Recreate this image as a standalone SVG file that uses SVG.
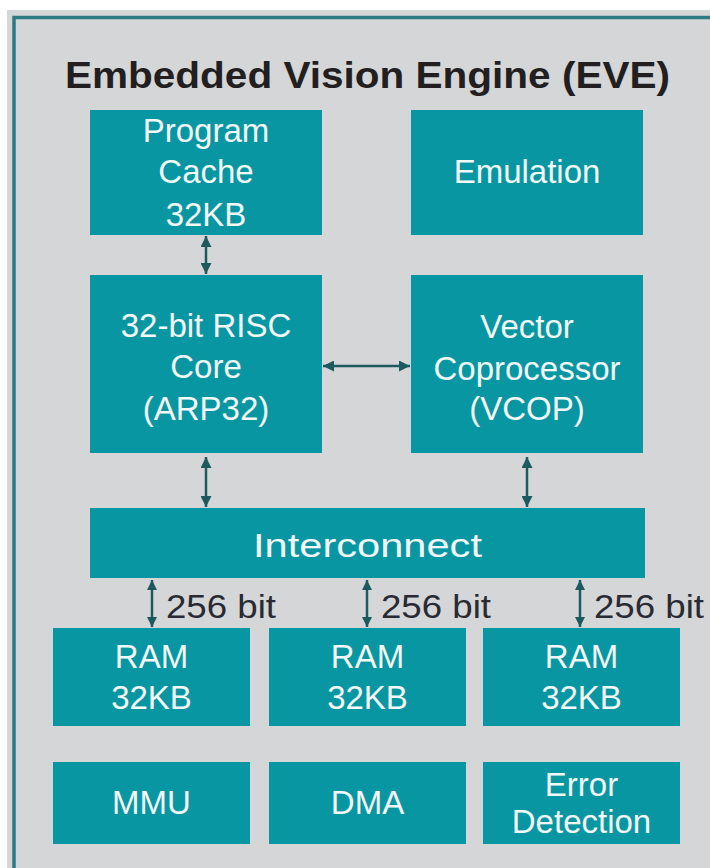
<svg xmlns="http://www.w3.org/2000/svg" width="710" height="868" viewBox="0 0 710 868">
<style>
.box{fill:#0897a2}
.bt{font-family:"Liberation Sans",Arial,sans-serif;font-size:33px;fill:#f3f8f8;text-anchor:middle}
.lbl{font-family:"Liberation Sans",Arial,sans-serif;font-size:33px;fill:#2a2a33}
.con{stroke:#1d5a60;stroke-width:2.5;fill:none}
.big{marker-start:url(#ah);marker-end:url(#ah)}
.sm{marker-start:url(#ahs);marker-end:url(#ahs)}
</style>
<defs>
<marker id="ah" viewBox="0 0 10 10" markerUnits="userSpaceOnUse" markerWidth="11" markerHeight="11" refX="10" refY="5" orient="auto-start-reverse">
<path d="M0,0 L10,5 L0,10 z" fill="#1d5a60"/>
</marker>
<marker id="ahs" viewBox="0 0 10 10" markerUnits="userSpaceOnUse" markerWidth="10" markerHeight="10" refX="10" refY="5" orient="auto-start-reverse">
<path d="M0,0 L10,5 L0,10 z" fill="#1d5a60"/>
</marker>
</defs>
<rect x="0" y="0" width="710" height="868" fill="#ffffff"/>
<rect x="7" y="10" width="703" height="858" fill="#d5d6d8"/>
<path d="M14,868 V17.5 H710" stroke="#2c7a82" stroke-width="3.5" fill="none"/>
<text x="65" y="88" font-family="'Liberation Sans',Arial,sans-serif" font-size="36" font-weight="bold" fill="#231f20" textLength="605" lengthAdjust="spacingAndGlyphs">Embedded Vision Engine (EVE)</text>

<g id="connectors">
<line class="con big" x1="206" y1="236" x2="206" y2="274"/>
<line class="con big" x1="323" y1="366" x2="410" y2="366"/>
<line class="con big" x1="206" y1="457" x2="206" y2="507"/>
<line class="con big" x1="527" y1="457" x2="527" y2="507"/>
<line class="con sm" x1="152" y1="580" x2="152" y2="627"/>
<line class="con sm" x1="367" y1="580" x2="367" y2="627"/>
<line class="con sm" x1="580" y1="580" x2="580" y2="627"/>
<text class="lbl" x="166" y="618" textLength="110" lengthAdjust="spacingAndGlyphs">256 bit</text>
<text class="lbl" x="381" y="618" textLength="110" lengthAdjust="spacingAndGlyphs">256 bit</text>
<text class="lbl" x="594" y="618" textLength="110" lengthAdjust="spacingAndGlyphs">256 bit</text>
</g>

<g id="program-cache">
<rect class="box" x="90" y="110" width="232" height="125"/>
<text class="bt" x="206" y="142">Program</text>
<text class="bt" x="206" y="183">Cache</text>
<text class="bt" x="206" y="226">32KB</text>
</g>
<g id="emulation">
<rect class="box" x="411" y="110" width="232" height="125"/>
<text class="bt" x="527" y="183">Emulation</text>
</g>
<g id="risc-core">
<rect class="box" x="90" y="275" width="232" height="178"/>
<text class="bt" x="206" y="337">32-bit RISC</text>
<text class="bt" x="206" y="378">Core</text>
<text class="bt" x="206" y="420">(ARP32)</text>
</g>
<g id="vcop">
<rect class="box" x="411" y="275" width="232" height="178"/>
<text class="bt" x="527" y="338">Vector</text>
<text class="bt" x="527" y="380">Coprocessor</text>
<text class="bt" x="527" y="420">(VCOP)</text>
</g>
<g id="interconnect">
<rect class="box" x="90" y="508" width="555" height="70"/>
<text class="bt" x="367.5" y="557" font-size="37" textLength="229" lengthAdjust="spacingAndGlyphs">Interconnect</text>
</g>
<g id="ram1">
<rect class="box" x="53" y="628" width="197" height="98"/>
<text class="bt" x="151.5" y="668">RAM</text>
<text class="bt" x="151.5" y="709">32KB</text>
</g>
<g id="ram2">
<rect class="box" x="269" y="628" width="197" height="98"/>
<text class="bt" x="367.5" y="668">RAM</text>
<text class="bt" x="367.5" y="709">32KB</text>
</g>
<g id="ram3">
<rect class="box" x="483" y="628" width="197" height="98"/>
<text class="bt" x="581.5" y="668">RAM</text>
<text class="bt" x="581.5" y="709">32KB</text>
</g>
<g id="mmu">
<rect class="box" x="53" y="762" width="197" height="82"/>
<text class="bt" x="151.5" y="814">MMU</text>
</g>
<g id="dma">
<rect class="box" x="269" y="762" width="197" height="82"/>
<text class="bt" x="367.5" y="814">DMA</text>
</g>
<g id="error-detection">
<rect class="box" x="483" y="762" width="197" height="82"/>
<text class="bt" x="581.5" y="796">Error</text>
<text class="bt" x="581.5" y="833">Detection</text>
</g>
</svg>
